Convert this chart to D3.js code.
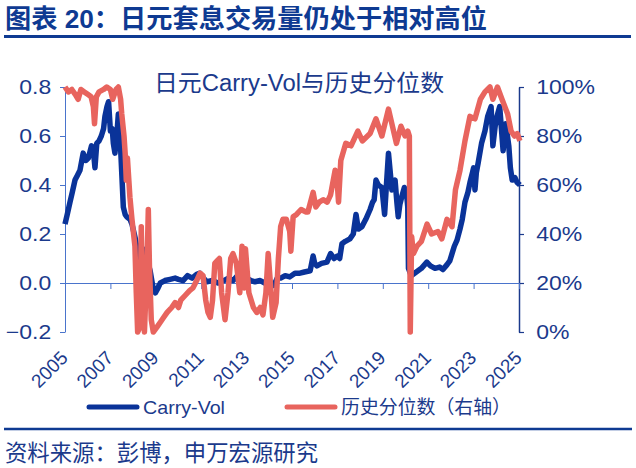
<!DOCTYPE html>
<html>
<head>
<meta charset="utf-8">
<script src="https://cdn.jsdelivr.net/npm/d3@7"></script>
<style>
  body { margin: 0; background: #fff; }
  text { font-family: "Liberation Sans", "Noto Sans CJK SC", sans-serif; }
</style>
</head>
<body>
<svg id="chart" width="636" height="468"></svg>
<script>
// values: [decimal year, value]
const carryVol = [
  [2005.00, 0.24], [2005.10, 0.28], [2005.22, 0.33], [2005.32, 0.37], [2005.44, 0.42],
  [2005.55, 0.44], [2005.66, 0.46], [2005.80, 0.53], [2005.92, 0.50], [2006.03, 0.51],
  [2006.17, 0.56], [2006.25, 0.54], [2006.32, 0.47], [2006.40, 0.57], [2006.50, 0.58],
  [2006.60, 0.60], [2006.70, 0.63], [2006.76, 0.68], [2006.85, 0.72], [2006.92, 0.74],
  [2007.00, 0.62], [2007.08, 0.63], [2007.13, 0.57], [2007.20, 0.53], [2007.28, 0.60],
  [2007.35, 0.69], [2007.42, 0.61], [2007.50, 0.45], [2007.57, 0.31], [2007.65, 0.28],
  [2007.72, 0.27], [2007.86, 0.26], [2007.95, 0.24], [2008.10, 0.18], [2008.25, 0.10],
  [2008.33, 0.09], [2008.42, 0.14], [2008.50, 0.13], [2008.60, 0.10], [2008.75, 0.05],
  [2008.90, -0.03], [2008.98, -0.04], [2009.10, -0.02], [2009.20, 0.00], [2009.40, 0.01],
  [2009.63, 0.015], [2009.85, 0.02], [2010.00, 0.015], [2010.20, 0.01], [2010.40, 0.03],
  [2010.60, 0.02], [2010.80, 0.035], [2010.95, 0.04], [2011.10, 0.02], [2011.25, 0.005],
  [2011.50, 0.01], [2011.74, 0.00], [2012.00, 0.01], [2012.20, 0.02], [2012.40, 0.01],
  [2012.60, 0.03], [2012.80, 0.025], [2013.00, 0.02], [2013.20, 0.01], [2013.37, 0.005],
  [2013.60, 0.01], [2013.80, 0.00], [2013.95, 0.00], [2014.20, -0.01], [2014.35, 0.02],
  [2014.50, 0.02], [2014.70, 0.03], [2014.90, 0.025], [2015.13, 0.04], [2015.35, 0.04],
  [2015.55, 0.045], [2015.80, 0.05], [2015.93, 0.11], [2016.00, 0.08], [2016.10, 0.07],
  [2016.30, 0.08], [2016.54, 0.085], [2016.70, 0.12], [2016.85, 0.10], [2017.00, 0.11],
  [2017.10, 0.10], [2017.20, 0.16], [2017.35, 0.17], [2017.55, 0.18], [2017.70, 0.20],
  [2017.82, 0.28], [2017.92, 0.22], [2018.08, 0.23], [2018.25, 0.26], [2018.44, 0.30],
  [2018.55, 0.33], [2018.62, 0.34], [2018.70, 0.42], [2018.80, 0.40], [2018.96, 0.39],
  [2019.08, 0.28], [2019.16, 0.40], [2019.25, 0.53], [2019.33, 0.45], [2019.40, 0.38],
  [2019.54, 0.42], [2019.62, 0.33], [2019.68, 0.27], [2019.75, 0.32], [2019.83, 0.35],
  [2019.95, 0.39], [2020.05, 0.36], [2020.10, 0.31], [2020.13, 0.06], [2020.25, 0.03],
  [2020.40, 0.04], [2020.55, 0.05], [2020.70, 0.06], [2020.94, 0.085], [2021.10, 0.07],
  [2021.30, 0.06], [2021.50, 0.065], [2021.65, 0.055], [2021.83, 0.075], [2021.95, 0.09],
  [2022.05, 0.12], [2022.15, 0.15], [2022.27, 0.175], [2022.40, 0.22], [2022.50, 0.26],
  [2022.62, 0.33], [2022.75, 0.37], [2022.84, 0.41], [2022.95, 0.45], [2023.00, 0.47],
  [2023.06, 0.38], [2023.12, 0.45], [2023.20, 0.49], [2023.35, 0.57], [2023.50, 0.62],
  [2023.62, 0.68], [2023.77, 0.72], [2023.85, 0.56], [2023.95, 0.64], [2024.03, 0.68],
  [2024.15, 0.72], [2024.30, 0.54], [2024.42, 0.65], [2024.55, 0.56], [2024.62, 0.47],
  [2024.70, 0.42], [2024.82, 0.43], [2024.92, 0.41], [2025.04, 0.40]
];

// historical percentile, right axis (0..1)
const percentile = [
  [2005.00, 1.00], [2005.15, 0.98], [2005.30, 0.99], [2005.45, 0.97], [2005.58, 0.95],
  [2005.70, 0.99], [2005.85, 0.98], [2006.00, 0.97], [2006.15, 0.96], [2006.25, 0.92],
  [2006.30, 0.85], [2006.38, 0.96], [2006.50, 0.98], [2006.70, 0.99], [2006.84, 1.00],
  [2007.00, 0.99], [2007.10, 0.95], [2007.25, 0.99], [2007.35, 1.00], [2007.45, 0.95],
  [2007.50, 0.89], [2007.60, 0.80], [2007.65, 0.73], [2007.70, 0.62], [2007.75, 0.71],
  [2007.86, 0.55], [2007.95, 0.46], [2008.08, 0.35], [2008.14, 0.16], [2008.20, 0.00],
  [2008.30, 0.02], [2008.36, 0.43], [2008.42, 0.10], [2008.50, 0.00], [2008.62, 0.30],
  [2008.67, 0.50], [2008.72, 0.27], [2008.80, 0.05], [2008.89, 0.00], [2009.05, 0.02],
  [2009.20, 0.04], [2009.35, 0.06], [2009.50, 0.08], [2009.70, 0.10], [2009.85, 0.12],
  [2010.00, 0.10], [2010.10, 0.13], [2010.30, 0.15], [2010.50, 0.17], [2010.64, 0.18],
  [2010.80, 0.21], [2010.95, 0.24], [2011.08, 0.23], [2011.20, 0.13], [2011.30, 0.08],
  [2011.40, 0.06], [2011.50, 0.13], [2011.60, 0.28], [2011.70, 0.29], [2011.80, 0.30],
  [2011.90, 0.16], [2012.05, 0.05], [2012.18, 0.16], [2012.30, 0.30], [2012.40, 0.32],
  [2012.55, 0.28], [2012.70, 0.16], [2012.80, 0.35], [2012.90, 0.18], [2012.95, 0.34],
  [2013.10, 0.16], [2013.30, 0.10], [2013.45, 0.08], [2013.60, 0.10], [2013.72, 0.07],
  [2013.85, 0.16], [2013.95, 0.32], [2014.08, 0.16], [2014.15, 0.06], [2014.30, 0.12],
  [2014.40, 0.30], [2014.50, 0.43], [2014.60, 0.46], [2014.75, 0.46], [2014.90, 0.41],
  [2014.95, 0.33], [2015.05, 0.47], [2015.20, 0.48], [2015.40, 0.50], [2015.60, 0.49],
  [2015.70, 0.49], [2015.93, 0.57], [2016.05, 0.51], [2016.20, 0.53], [2016.37, 0.54],
  [2016.55, 0.53], [2016.70, 0.56], [2016.90, 0.66], [2017.00, 0.60], [2017.05, 0.53],
  [2017.15, 0.70], [2017.37, 0.77], [2017.60, 0.76], [2017.90, 0.82], [2018.10, 0.78],
  [2018.44, 0.81], [2018.70, 0.87], [2018.96, 0.80], [2019.25, 0.91], [2019.40, 0.85],
  [2019.60, 0.77], [2019.80, 0.84], [2019.98, 0.80], [2020.10, 0.82], [2020.17, 0.80],
  [2020.21, 0.00], [2020.27, 0.39], [2020.35, 0.32], [2020.50, 0.35], [2020.70, 0.37],
  [2020.95, 0.44], [2021.15, 0.40], [2021.43, 0.41], [2021.60, 0.38], [2021.83, 0.46],
  [2022.05, 0.43], [2022.20, 0.58], [2022.40, 0.66], [2022.62, 0.78], [2022.84, 0.88],
  [2023.06, 0.87], [2023.30, 0.95], [2023.50, 0.98], [2023.72, 1.00], [2023.85, 0.95],
  [2024.05, 1.00], [2024.25, 0.95], [2024.50, 0.89], [2024.65, 0.82], [2024.80, 0.80],
  [2024.92, 0.81], [2025.04, 0.78]
];

const yearTicks = [2005, 2007, 2009, 2011, 2013, 2015, 2017, 2019, 2021, 2023, 2025];
const leftTicks = [-0.2, 0, 0.2, 0.4, 0.6, 0.8];
const rightTicks = [0, 0.2, 0.4, 0.6, 0.8, 1];

const titleText = '图表 20：日元套息交易量仍处于相对高位';
const innerTitle = '日元Carry-Vol与历史分位数';
const legendNames = ['Carry-Vol', '历史分位数（右轴）'];
const sourceText = '资料来源：彭博，申万宏源研究';

const navy = '#1b3a8c';
const blue = '#0a3399';
const red = '#e8645e';
const axisBlue = '#4a74cc';

const svg = d3.select('#chart');

const x = d3.scaleLinear().domain([2005, 2025]).range([65, 519]);
const yL = d3.scaleLinear().domain([-0.2, 0.8]).range([332, 87]);
const yR = d3.scaleLinear().domain([0, 1]).range([332, 87]);

function fitText(sel, w) {
  return sel.attr('textLength', w).attr('lengthAdjust', 'spacingAndGlyphs');
}

// header
svg.append('text')
  .attr('x', 5).attr('y', 28)
  .attr('font-size', 26).attr('font-weight', 'bold')
  .attr('fill', '#0e3a92')
  .text(titleText)
  .call(fitText, 482);
svg.append('line')
  .attr('x1', 4).attr('x2', 631).attr('y1', 36.5).attr('y2', 36.5)
  .attr('stroke', '#0e3a92').attr('stroke-width', 3);

// axes
const leftAxis = svg.append('g')
  .attr('transform', 'translate(65,0)')
  .call(d3.axisLeft(yL).tickValues(leftTicks).tickFormat(d3.format('.1f'))
    .tickSize(5).tickSizeOuter(0).tickPadding(7));
leftAxis.select('.domain').attr('stroke', axisBlue);
leftAxis.selectAll('.tick line').attr('stroke', axisBlue);
leftAxis.selectAll('.tick text')
  .attr('fill', navy).attr('font-size', 20)
  .attr('transform', 'scale(1.15,1)');

const rightAxis = svg.append('g')
  .attr('transform', 'translate(519,0)')
  .call(d3.axisRight(yR).tickValues(rightTicks).tickFormat(d3.format('.0%'))
    .tickSize(5).tickSizeOuter(0).tickPadding(10));
rightAxis.select('.domain').attr('stroke', navy).attr('stroke-width', 1.5);
rightAxis.selectAll('.tick line').attr('stroke', navy).attr('stroke-width', 1.2);
rightAxis.selectAll('.tick text')
  .attr('fill', navy).attr('font-size', 20)
  .attr('transform', 'scale(1.15,1)');

const xAxis = svg.append('g')
  .attr('transform', 'translate(0,' + yL(0) + ')')
  .call(d3.axisBottom(x).tickValues(yearTicks).tickFormat('')
    .tickSize(6).tickSizeOuter(0));
xAxis.select('.domain').attr('stroke', axisBlue);
xAxis.selectAll('.tick line').attr('stroke', axisBlue);

svg.append('g')
  .selectAll('text')
  .data(yearTicks)
  .enter()
  .append('text')
  .attr('transform', (d) => 'translate(' + (x(d) + 4) + ',359) rotate(-45)')
  .attr('text-anchor', 'end')
  .attr('font-size', 19)
  .attr('fill', navy)
  .text((d) => d);

// series
const lineL = d3.line().x((d) => x(d[0])).y((d) => yL(d[1]));
const lineR = d3.line().x((d) => x(d[0])).y((d) => yR(d[1]));

svg.append('path')
  .datum(carryVol)
  .attr('d', lineL)
  .attr('fill', 'none')
  .attr('stroke', blue)
  .attr('stroke-width', 5.5)
  .attr('stroke-linejoin', 'round');

svg.append('path')
  .datum(percentile)
  .attr('d', lineR)
  .attr('fill', 'none')
  .attr('stroke', red)
  .attr('stroke-width', 5.5)
  .attr('stroke-linejoin', 'round');

svg.append('text')
  .attr('x', 154).attr('y', 91)
  .attr('font-size', 23)
  .attr('fill', navy)
  .text(innerTitle)
  .call(fitText, 290);

// legend
const legend = [
  { name: legendNames[0], color: blue, x: 87, w: 82 },
  { name: legendNames[1], color: red, x: 285, w: 170 },
];
const lg = svg.append('g')
  .selectAll('g')
  .data(legend)
  .enter()
  .append('g');
lg.append('line')
  .attr('x1', (d) => d.x + 2).attr('x2', (d) => d.x + 50)
  .attr('y1', 407).attr('y2', 407)
  .attr('stroke', (d) => d.color)
  .attr('stroke-width', 5)
  .attr('stroke-linecap', 'round');
lg.append('text')
  .attr('x', (d) => d.x + 56)
  .attr('y', 413.5)
  .attr('font-size', 19)
  .attr('fill', navy)
  .attr('textLength', (d) => d.w)
  .attr('lengthAdjust', 'spacingAndGlyphs')
  .text((d) => d.name);

// footer
svg.append('line')
  .attr('x1', 4).attr('x2', 632).attr('y1', 429).attr('y2', 429)
  .attr('stroke', '#0e3a92').attr('stroke-width', 2.5);
svg.append('text')
  .attr('x', 5).attr('y', 460.5)
  .attr('font-size', 23)
  .attr('fill', navy)
  .text(sourceText)
  .call(fitText, 313);
</script>
</body>
</html>
